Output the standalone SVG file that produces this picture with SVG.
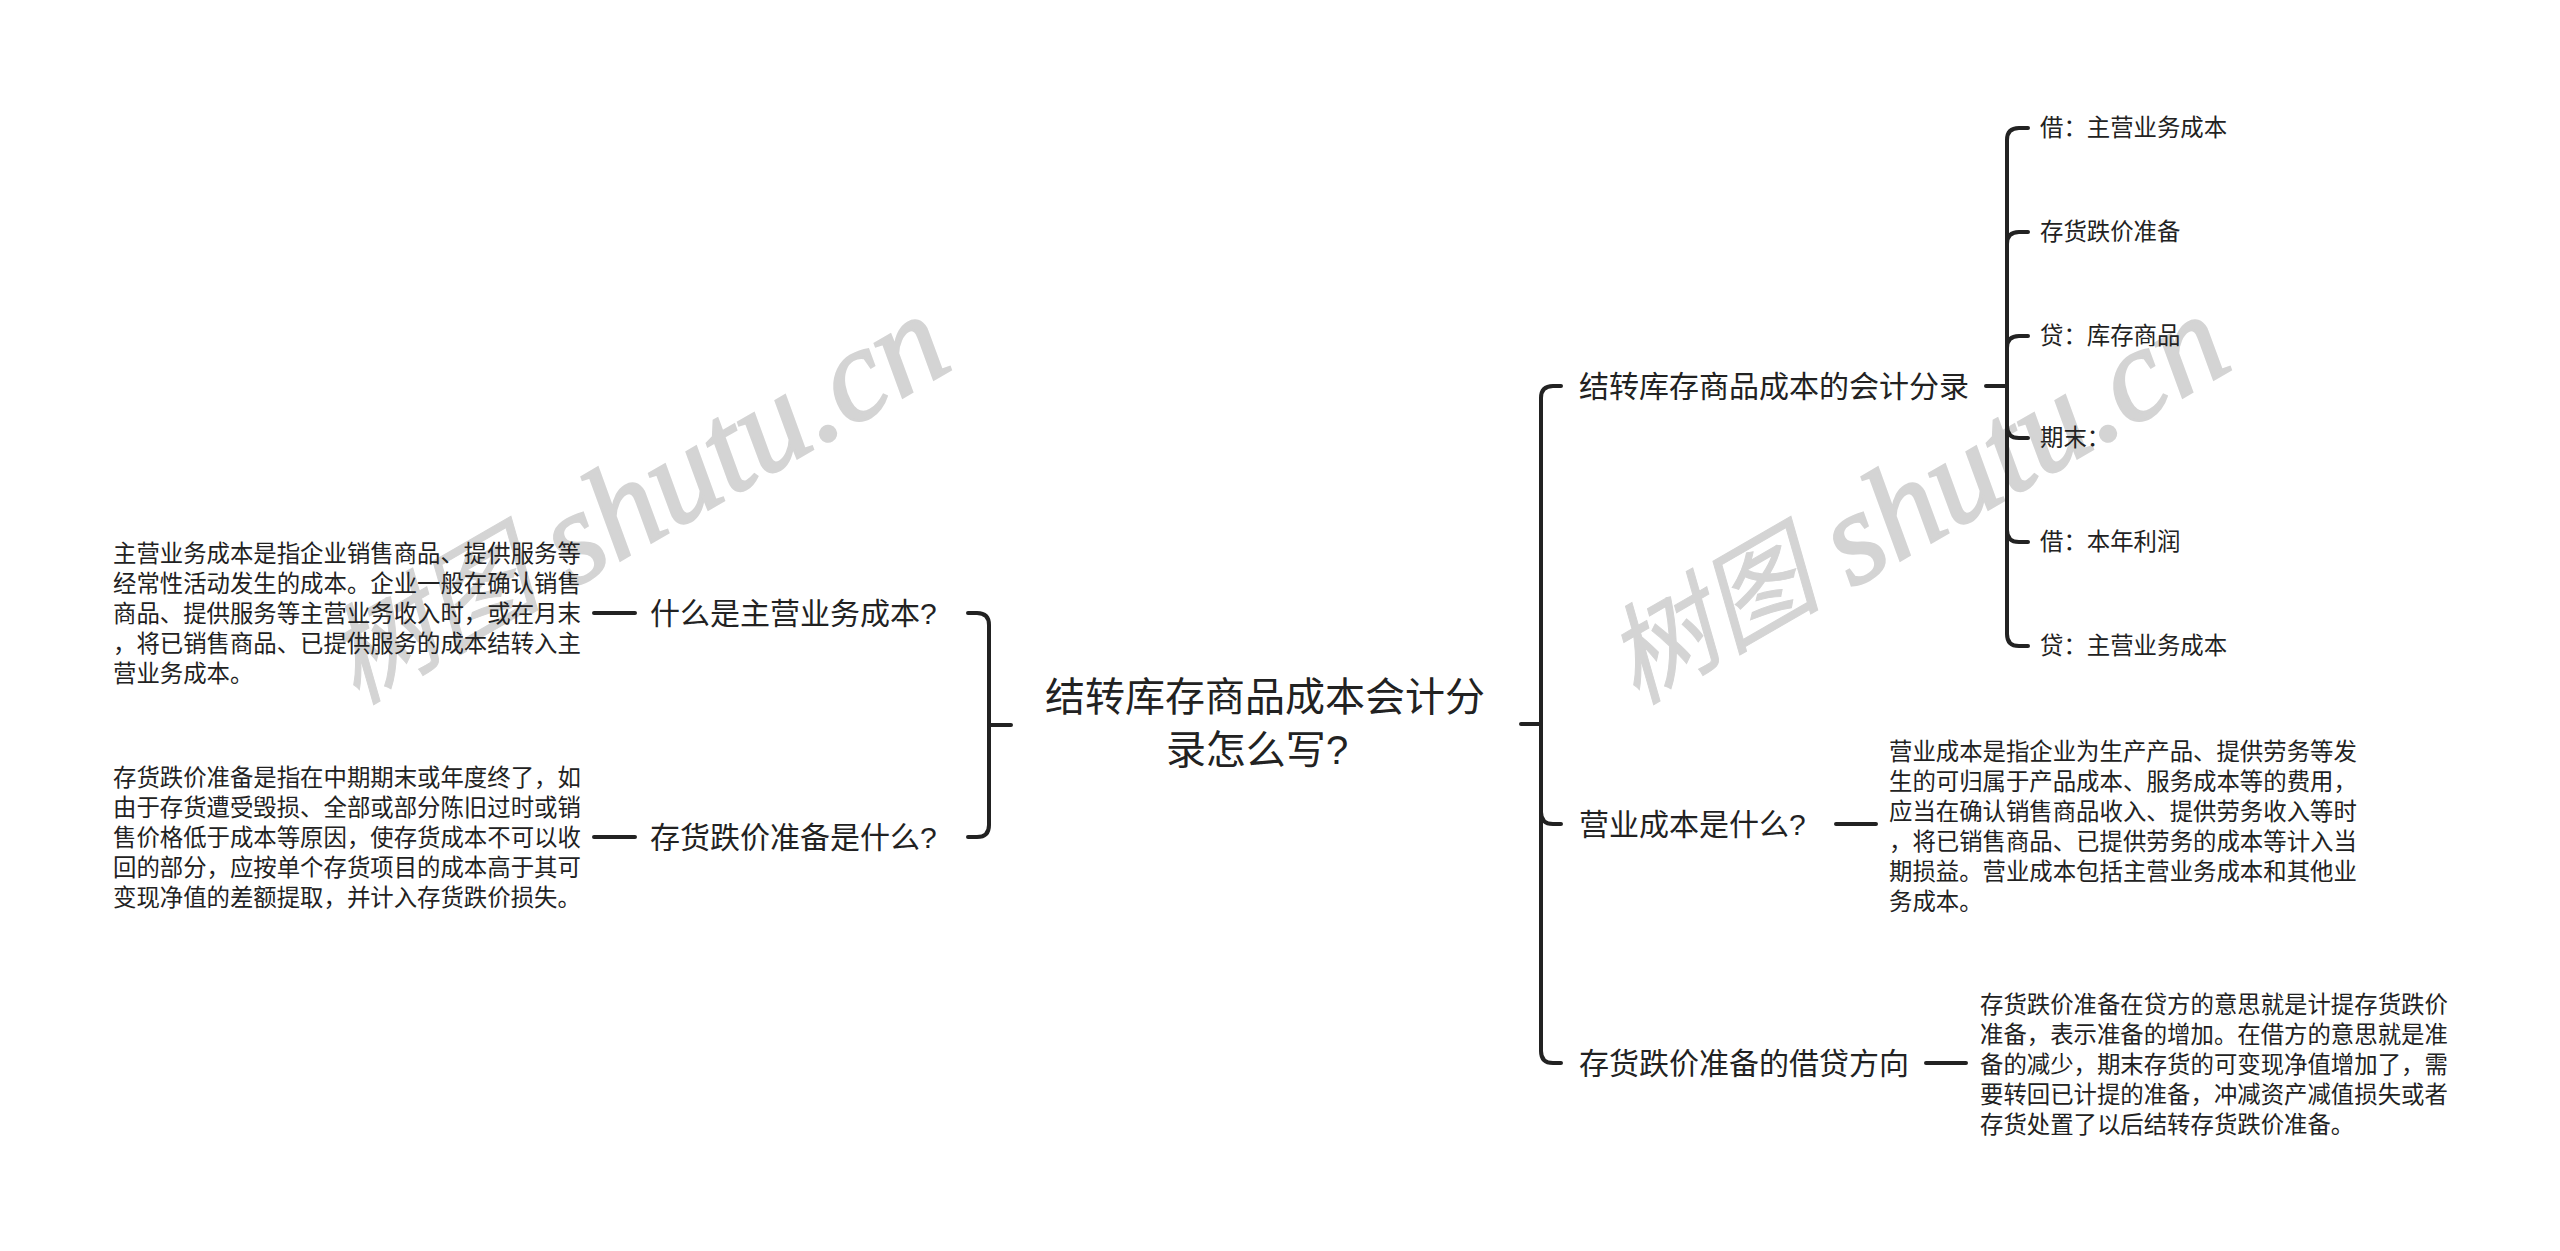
<svg xmlns="http://www.w3.org/2000/svg" width="2560" height="1251" viewBox="0 0 2560 1251">
<style>
text{font-family:"Noto Sans CJK SC","Noto Sans",sans-serif;fill:#222}
.s{font-size:23.4px}.m{font-size:30px}.r{font-size:40px;text-anchor:middle}
.q{font-family:"Liberation Sans","Noto Sans",sans-serif}
.c path{fill:none;stroke:#222;stroke-width:4;stroke-linecap:round}
text.w{font-family:"Noto Sans CJK SC",serif;font-style:italic;font-size:108px;fill:#d4d4d4;stroke:#d4d4d4;stroke-width:1}
tspan.wl{font-family:"Liberation Serif","Times New Roman",serif;font-style:italic;font-size:132px;stroke-width:2.5}
</style>
<rect width="2560" height="1251" fill="#fff"/>
<g id="watermarks">
<text class="w" transform="translate(356 705) rotate(-30)">树图<tspan class="wl" dx="-4" dy="7"> shutu.cn</tspan></text>
<text class="w" transform="translate(1636 705) rotate(-30)">树图<tspan class="wl" dx="-4" dy="7"> shutu.cn</tspan></text>
</g>
<g id="connectors" class="c">
<path d="M1011 725H989M968 613H977Q989 613 989 625V825Q989 837 977 837H968"/>
<path d="M635 613H594M635 837H594"/>
<path d="M1521 724H1541M1561 386H1553Q1541 386 1541 398V1051Q1541 1063 1553 1063H1561M1541 812Q1541 824 1553 824H1561"/>
<path d="M1986 386H2007M2028 128H2019Q2007 128 2007 140V634Q2007 646 2019 646H2028M2028 232H2019Q2007 232 2007 244M2028 336H2019Q2007 336 2007 348M2007 426Q2007 438 2019 438H2028M2007 530Q2007 542 2019 542H2028"/>
<path d="M1836 824H1876M1926 1063H1966"/>
</g>
<g id="root"><text class="r" x="1265" y="711">结转库存商品成本会计分</text><text class="r" x="1257" y="764">录怎么写<tspan class="q">?</tspan></text></g>
<g id="n-zhuyingyewu"><text class="m" x="650" y="624">什么是主营业务成本<tspan class="q">?</tspan></text></g>
<g id="n-zhuyingyewu-d">
<text class="s" x="113" y="562">主营业务成本是指企业销售商品、提供服务等</text>
<text class="s" x="113" y="592">经常性活动发生的成本。企业一般在确认销售</text>
<text class="s" x="113" y="622">商品、提供服务等主营业务收入时&#xFF0C;或在月末</text>
<text class="s" x="113" y="652">&#xFF0C;将已销售商品、已提供服务的成本结转入主</text>
<text class="s" x="113" y="682">营业务成本。</text>
</g>
<g id="n-diejia"><text class="m" x="650" y="848">存货跌价准备是什么<tspan class="q">?</tspan></text></g>
<g id="n-diejia-d">
<text class="s" x="113" y="786">存货跌价准备是指在中期期末或年度终了&#xFF0C;如</text>
<text class="s" x="113" y="816">由于存货遭受毁损、全部或部分陈旧过时或销</text>
<text class="s" x="113" y="846">售价格低于成本等原因&#xFF0C;使存货成本不可以收</text>
<text class="s" x="113" y="876">回的部分&#xFF0C;应按单个存货项目的成本高于其可</text>
<text class="s" x="113" y="906">变现净值的差额提取&#xFF0C;并计入存货跌价损失。</text>
</g>
<g id="n-fenlu"><text class="m" x="1579" y="397">结转库存商品成本的会计分录</text></g>
<g id="l1"><text class="s" x="2040" y="136">借&#xFF1A;主营业务成本</text></g>
<g id="l2"><text class="s" x="2040" y="240">存货跌价准备</text></g>
<g id="l3"><text class="s" x="2040" y="344">贷&#xFF1A;库存商品</text></g>
<g id="l4"><text class="s" x="2040" y="446">期末&#xFF1A;</text></g>
<g id="l5"><text class="s" x="2040" y="550">借&#xFF1A;本年利润</text></g>
<g id="l6"><text class="s" x="2040" y="654">贷&#xFF1A;主营业务成本</text></g>
<g id="n-yingye"><text class="m" x="1579" y="835">营业成本是什么<tspan class="q">?</tspan></text></g>
<g id="n-yingye-d">
<text class="s" x="1889" y="760">营业成本是指企业为生产产品、提供劳务等发</text>
<text class="s" x="1889" y="790">生的可归属于产品成本、服务成本等的费用&#xFF0C;</text>
<text class="s" x="1889" y="820">应当在确认销售商品收入、提供劳务收入等时</text>
<text class="s" x="1889" y="850">&#xFF0C;将已销售商品、已提供劳务的成本等计入当</text>
<text class="s" x="1889" y="880">期损益。营业成本包括主营业务成本和其他业</text>
<text class="s" x="1889" y="910">务成本。</text>
</g>
<g id="n-jiedai"><text class="m" x="1579" y="1074">存货跌价准备的借贷方向</text></g>
<g id="n-jiedai-d">
<text class="s" x="1980" y="1013">存货跌价准备在贷方的意思就是计提存货跌价</text>
<text class="s" x="1980" y="1043">准备&#xFF0C;表示准备的增加。在借方的意思就是准</text>
<text class="s" x="1980" y="1073">备的减少&#xFF0C;期末存货的可变现净值增加了&#xFF0C;需</text>
<text class="s" x="1980" y="1103">要转回已计提的准备&#xFF0C;冲减资产减值损失或者</text>
<text class="s" x="1980" y="1133">存货处置了以后结转存货跌价准备。</text>
</g>
</svg>
